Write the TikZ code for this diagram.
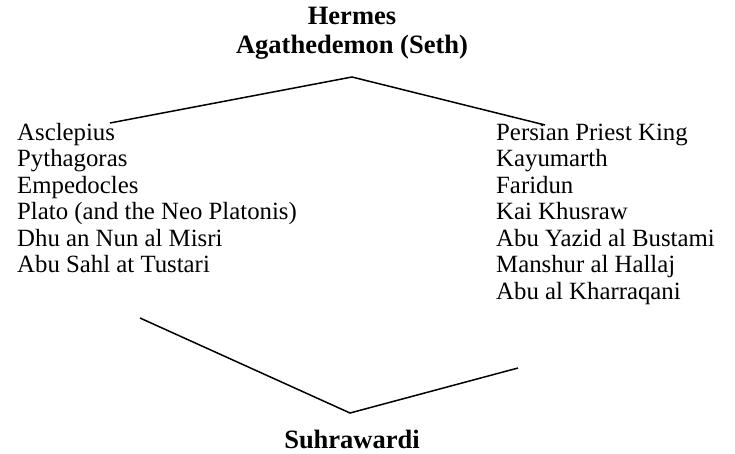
\documentclass[tikz,border=0pt]{standalone}
\usepackage{fontspec}
\setmainfont{Liberation Serif}

\begin{document}
\begin{tikzpicture}[x=1pt,y=-1pt,
    person/.style={anchor=base west, inner sep=0pt, font=\fontsize{24.8}{28}\selectfont},
    head/.style={anchor=base, inner sep=0pt, font=\fontsize{26.5}{30}\selectfont\bfseries},
    link/.style={line width=1.5pt}]
 	\def\rowStep{26.5} % Distance between two names
 	
 	% Fix the page size
 	\useasboundingbox (0,0) rectangle (735,453);
 	
 	% Top names
 	\node[head] (hermes) at (352,24) {Hermes};
 	\node[head] (seth) at (352,53) {Agathedemon (Seth)};
 	
 	% Left list
 	\foreach \name [count=\i] in {Asclepius, Pythagoras, Empedocles,
 		{Plato (and the Neo Platonis)}, Dhu an Nun al Misri, Abu Sahl at Tustari} {
 		\node[person] (left-\i) at (17,{140 + (\i - 1) * \rowStep}) {\name};
 	}
 	
 	% Right list
 	\foreach \name [count=\i] in {Persian Priest King, Kayumarth, Faridun, Kai Khusraw,
 		Abu Yazid al Bustami, Manshur al Hallaj, Abu al Kharraqani} {
 		\node[person] (right-\i) at (496,{140 + (\i - 1) * \rowStep}) {\name};
 	}
 	
 	% Bottom name
 	\node[head] (suhrawardi) at (352,448) {Suhrawardi};
 	
 	% End points of the lines
 	\coordinate (apex) at (352,77);
 	\coordinate (topLeft) at (110,123);
 	\coordinate (topRight) at (545,125);
 	\coordinate (bottomLeft) at (140,318);
 	\coordinate (bottomRight) at (518,368);
 	\coordinate (foot) at (350,413);
 	
 	\draw[link] (topLeft) -- (apex) -- (topRight);
 	\draw[link] (bottomLeft) -- (foot) -- (bottomRight);
\end{tikzpicture}
\end{document}
